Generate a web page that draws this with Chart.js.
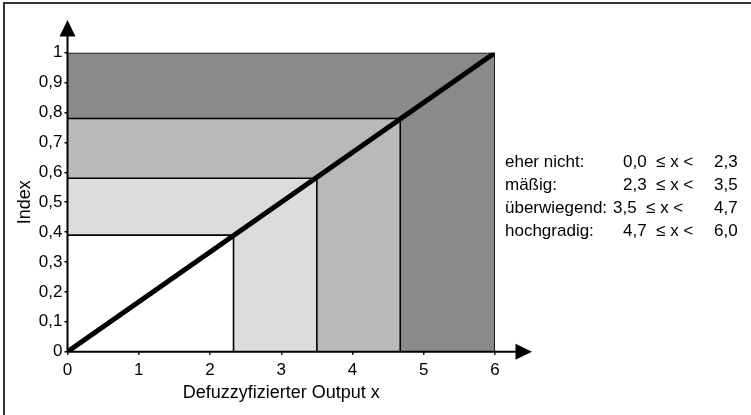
<!DOCTYPE html>
<html>
<head>
<meta charset="utf-8">
<script src="https://cdn.jsdelivr.net/npm/chart.js@4/dist/chart.umd.min.js"></script>
<style>
  html, body { margin: 0; padding: 0; background: #fff; }
  #wrap { position: relative; width: 751px; height: 415px; overflow: hidden; }
  #c { position: absolute; left: 0; top: 0; }
  #frame { position: absolute; left: 3px; top: 2px; width: 760px; height: 430px;
           border-top: 2px solid #333; border-left: 2px solid #333; }
  .row { position: absolute; font-family: "Liberation Sans", Arial, sans-serif; font-size: 17px;
         line-height: 17px; color: #000; white-space: pre; }
</style>
</head>
<body>
<div id="wrap">
  <div id="frame"></div>
  <canvas id="c" width="751" height="415"></canvas>
  <div id="legend"></div>
</div>
<script>
// ---- data ----
const categories = ['eher nicht:', 'mäßig:', 'überwiegend:', 'hochgradig:'];
const classFrom  = ['0,0', '2,3', '3,5', '4,7'];
const classTo    = ['2,3', '3,5', '4,7', '6,0'];
const classRight = [2.33, 3.5, 4.67, 6.0];     // right edge of each shaded region (x)
const classIndex = [0.39, 0.58, 0.78, 1.0];    // top edge of each shaded region (Index)
const lineX = [0, 6];
const lineY = [0, 1];
const xTickValues = [0, 1, 2, 3, 4, 5, 6];
const yTickLabels = ['0', '0,1', '0,2', '0,3', '0,4', '0,5', '0,6', '0,7', '0,8', '0,9', '1'];
const shadeColors = ['#ffffff', '#dcdcdc', '#b9b9b9', '#8a8a8a'];

Chart.defaults.font.family = '"Liberation Sans", Arial, sans-serif';
Chart.defaults.font.size = 17;
Chart.defaults.color = '#000';

const datasets = [];
datasets.push({
  label: 'Index',
  data: lineX.map((x, i) => ({ x: x, y: lineY[i] })),
  borderColor: '#000', borderWidth: 5, pointRadius: 0, fill: false, tension: 0
});
categories.forEach((c, i) => {
  datasets.push({
    label: c,
    data: [{ x: 0, y: classIndex[i] }, { x: classRight[i], y: classIndex[i] }, { x: classRight[i], y: 0 }],
    borderColor: '#000', borderWidth: 1.6, backgroundColor: shadeColors[i],
    pointRadius: 0, fill: 'origin', tension: 0
  });
});

const arrows = {
  id: 'arrows',
  afterDraw(chart) {
    const ctx = chart.ctx;
    const x0 = chart.scales.x.getPixelForValue(0);
    const y0 = chart.scales.y.getPixelForValue(0);
    ctx.save();
    ctx.strokeStyle = '#000'; ctx.fillStyle = '#000'; ctx.lineWidth = 2;
    ctx.beginPath();
    ctx.moveTo(x0, y0); ctx.lineTo(x0, 36);
    ctx.moveTo(x0, y0); ctx.lineTo(516, y0);
    ctx.stroke();
    ctx.beginPath();
    ctx.moveTo(x0, 20); ctx.lineTo(x0 - 8, 36.5); ctx.lineTo(x0 + 8, 36.5); ctx.closePath(); ctx.fill();
    ctx.beginPath();
    ctx.moveTo(532, y0); ctx.lineTo(515.5, y0 - 8); ctx.lineTo(515.5, y0 + 8); ctx.closePath(); ctx.fill();
    ctx.restore();
  }
};

new Chart(document.getElementById('c'), {
  type: 'line',
  data: { datasets: datasets },
  options: {
    responsive: false, animation: false, devicePixelRatio: 1,
    layout: { padding: { left: 10, top: 52.7, right: 256, bottom: 10 } },
    plugins: { legend: { display: false }, tooltip: { enabled: false } },
    scales: {
      x: {
        type: 'linear', min: 0, max: 6,
        afterFit(s) { s.height = 53.3; },
        afterBuildTicks(s) { s.ticks = xTickValues.map(v => ({ value: v })); },
        ticks: { padding: 5, maxRotation: 0, callback: v => String(v) },
        grid: { drawOnChartArea: false, drawTicks: true, tickLength: 3, color: '#000', lineWidth: 1.5 },
        border: { display: false },
        title: { display: true, text: 'Defuzzyfizierter Output x', font: { size: 18 }, padding: { top: 0, bottom: 1 } }
      },
      y: {
        type: 'linear', min: 0, max: 1,
        afterFit(s) { s.width = 57.5; },
        afterBuildTicks(s) { s.ticks = yTickLabels.map((t, i) => ({ value: i / 10 })); },
        ticks: { padding: 2, callback: (v, i) => yTickLabels[i] },
        grid: { drawOnChartArea: false, drawTicks: true, tickLength: 3, color: '#000', lineWidth: 1.5 },
        border: { display: false },
        title: { display: true, text: 'Index', font: { size: 18 }, padding: { top: 4, bottom: 0 } }
      }
    }
  },
  plugins: [arrows]
});

// legend text (real HTML text)
const legend = document.getElementById('legend');
const rowTops = [152.5, 175.8, 199.1, 222.4];
const fromX = [623, 623, 613, 623];
categories.forEach((c, i) => {
  const mk = (txt, left) => {
    const d = document.createElement('div');
    d.className = 'row'; d.textContent = txt;
    d.style.left = left + 'px'; d.style.top = rowTops[i] + 'px';
    legend.appendChild(d);
  };
  mk(c, 505);
  mk(classFrom[i] + '  \u2264 x <', fromX[i]);
  mk(classTo[i], 714);
});
</script>
</body>
</html>
